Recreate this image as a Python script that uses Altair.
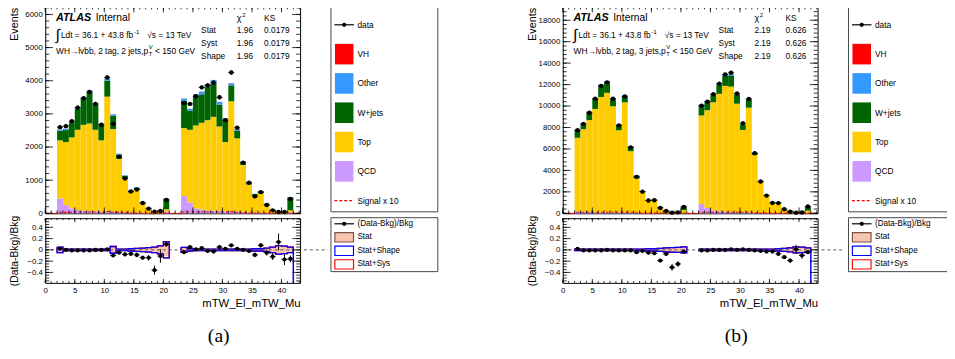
import altair as alt
import pandas as pd

FONT = "Liberation Sans"
SERIF = "Liberation Serif"

# ---------------------------------------------------------------- binning
bin_lo = list(range(2, 21)) + list(range(23, 42))   # 38 unit-width bins, two blocks
x_domain = [0, 43.15]

process_names = ["QCD", "Top", "W+jets", "Other", "VH"]
process_colors = ["#cc99ff", "#ffcc00", "#006400", "#3399ff", "#ff0000"]

# ---------------------------------------------------------------- panel (a)
a_qcd = [450, 250, 150, 100, 80, 70, 60, 50, 50, 50, 40, 30, 20, 20, 15, 10, 5, 5, 60,
         520, 330, 150, 110, 90, 80, 70, 60, 60, 50, 40, 30, 20, 20, 10, 5, 3, 3, 30]
a_top = [1750, 1900, 2140, 2420, 2590, 2640, 2460, 2150, 3470, 2490, 1600, 1020, 610, 710, 275, 140, 45, 55, 60,
         2050, 2190, 2500, 2620, 2720, 2830, 2550, 2090, 3320, 2210, 1420, 840, 510, 580, 240, 85, 37, 37, 60]
a_wjets = [290, 360, 450, 630, 780, 940, 760, 470, 480, 400, 130, 80, 50, 40, 35, 17, 9, 19, 320,
           830, 570, 870, 860, 1000, 1000, 660, 670, 480, 230, 80, 65, 50, 60, 35, 18, 9, 9, 390]
a_other = [40, 40, 40, 45, 50, 50, 45, 40, 60, 45, 25, 15, 10, 10, 5, 3, 1, 1, 10,
           60, 60, 70, 80, 90, 110, 80, 50, 60, 40, 25, 15, 10, 10, 5, 2, 1, 1, 10]
a_vh = [3, 3, 3, 4, 4, 4, 4, 3, 5, 4, 3, 2, 1, 1, 1, 0.5, 0.3, 0.3, 1,
        4, 4, 4, 4, 4, 4, 4, 4, 5, 3, 2, 1, 1, 1, 1, 0.5, 0.3, 0.3, 1]
a_data = [2600, 2630, 2780, 3190, 3470, 3660, 3300, 2670, 4100, 2700, 1710, 1050, 660, 720, 310, 140, 50, 70, 400,
          3330, 3300, 3530, 3800, 3860, 3940, 3500, 2810, 4250, 2580, 1530, 920, 510, 640, 250, 90, 40, 40, 430]
a_data_err = [55, 55, 55, 60, 60, 60, 60, 55, 65, 55, 45, 35, 28, 28, 20, 14, 8, 9, 22,
              60, 60, 60, 65, 65, 65, 60, 55, 65, 52, 40, 32, 24, 26, 17, 10, 7, 7, 22]
a_ratio = [0.02, 0.0, -0.01, -0.01, -0.01, -0.01, 0.0, 0.0, 0.01, -0.10, -0.05, -0.08, -0.07, -0.09, -0.14, -0.14, -0.36, -0.11, 0.10,
           -0.04, 0.05, 0.01, 0.03, -0.02, -0.03, 0.05, 0.02, 0.08, 0.02, 0.0, -0.02, -0.09, 0.08, -0.05, -0.12, 0.14, -0.17, -0.16]
a_ratio_err = [0.02, 0.02, 0.02, 0.02, 0.02, 0.02, 0.02, 0.02, 0.02, 0.02, 0.02, 0.03, 0.03, 0.04, 0.04, 0.05, 0.08, 0.12, 0.05,
               0.02, 0.02, 0.02, 0.02, 0.02, 0.02, 0.02, 0.02, 0.02, 0.02, 0.02, 0.03, 0.04, 0.04, 0.05, 0.06, 0.15, 0.10, 0.06]
a_stat = [0.04, 0.01, 0.01, 0.01, 0.01, 0.01, 0.01, 0.01, 0.01, 0.05, 0.01, 0.01, 0.015, 0.02, 0.025, 0.035, 0.045, 0.06, 0.11,
          0.035, 0.015, 0.01, 0.01, 0.01, 0.01, 0.01, 0.01, 0.01, 0.01, 0.01, 0.01, 0.015, 0.015, 0.025, 0.04, 0.06, 0.055, 0.04]
a_shape = [0.05, 0.012, 0.012, 0.012, 0.012, 0.012, 0.012, 0.012, 0.012, 0.06, 0.015, 0.015, 0.02, 0.025, 0.03, 0.04, 0.05, 0.07, 0.14,
           0.045, 0.02, 0.012, 0.012, 0.012, 0.012, 0.012, 0.012, 0.012, 0.012, 0.012, 0.015, 0.02, 0.02, 0.03, 0.05, 0.075, 0.065, 0.05]

# ---------------------------------------------------------------- panel (b)
b_qcd = [200, 150, 120, 100, 80, 80, 70, 60, 60, 50, 40, 30, 20, 20, 10, 5, 2, 2, 10,
         860, 490, 280, 200, 150, 120, 100, 80, 80, 60, 40, 30, 20, 20, 10, 5, 2, 2, 20]
b_top = [6840, 7690, 8570, 9630, 10760, 11150, 9910, 7680, 10290, 5740, 3200, 1930, 1130, 1180, 490, 195, 68, 88, 290,
         8260, 9120, 10070, 10940, 11730, 11690, 10120, 7690, 9770, 5390, 2860, 1590, 930, 910, 390, 145, 53, 73, 230]
b_wjets = [700, 490, 700, 930, 1040, 990, 650, 470, 540, 410, 265, 80, 88, 88, 94, 37, 19, 29, 310,
           910, 770, 670, 820, 920, 990, 850, 480, 730, 165, 97, 60, 39, 79, 35, 18, 9, 14, 410]
b_other = [90, 80, 90, 100, 110, 110, 100, 80, 100, 60, 30, 20, 12, 12, 6, 3, 1, 1, 8,
           110, 110, 120, 130, 140, 140, 120, 90, 110, 60, 30, 18, 10, 10, 5, 2, 1, 1, 8]
b_vh = [10, 10, 10, 10, 10, 10, 10, 10, 10, 10, 5, 3, 2, 2, 1, 1, 0.5, 0.5, 2,
        10, 10, 10, 10, 10, 10, 10, 10, 10, 5, 3, 2, 1, 1, 0.5, 0.5, 0.3, 0.3, 2]
b_data = [7740, 8330, 9370, 10680, 11880, 12210, 10680, 8200, 10900, 6150, 3400, 2020, 1190, 1220, 490, 210, 60, 90, 600,
          10040, 10410, 11110, 12090, 12950, 13100, 11170, 8390, 10650, 5600, 2960, 1650, 970, 950, 380, 140, 60, 80, 640]
b_data_err = [90, 95, 100, 105, 110, 110, 105, 95, 105, 80, 60, 45, 35, 35, 23, 15, 8, 10, 25,
              100, 105, 105, 110, 115, 115, 105, 92, 105, 75, 55, 40, 31, 31, 20, 12, 8, 9, 25]
b_ratio = [0.02, -0.01, -0.01, -0.01, -0.01, 0.0, -0.01, -0.01, -0.01, -0.01, -0.04, -0.02, -0.05, -0.06, -0.19, -0.07, -0.31, -0.25, -0.03,
           -0.01, -0.01, 0.0, 0.0, 0.0, 0.01, 0.0, 0.01, 0.0, -0.01, -0.02, -0.03, -0.03, -0.07, -0.13, -0.19, 0.01, -0.10, -0.04]
b_ratio_err = [0.01, 0.01, 0.01, 0.01, 0.01, 0.01, 0.01, 0.01, 0.01, 0.01, 0.01, 0.01, 0.01, 0.015, 0.03, 0.025, 0.06, 0.05, 0.03,
               0.01, 0.01, 0.01, 0.01, 0.01, 0.01, 0.01, 0.01, 0.01, 0.01, 0.01, 0.01, 0.015, 0.02, 0.03, 0.04, 0.08, 0.06, 0.03]
b_stat = [0.01, 0.01, 0.01, 0.01, 0.01, 0.01, 0.01, 0.01, 0.01, 0.01, 0.01, 0.01, 0.015, 0.015, 0.02, 0.03, 0.035, 0.04, 0.05,
          0.01, 0.01, 0.01, 0.01, 0.01, 0.01, 0.01, 0.01, 0.01, 0.01, 0.01, 0.01, 0.01, 0.015, 0.02, 0.03, 0.05, 0.045, 0.03]
b_shape = [0.012, 0.012, 0.012, 0.012, 0.012, 0.012, 0.012, 0.012, 0.012, 0.012, 0.012, 0.015, 0.02, 0.02, 0.025, 0.035, 0.04, 0.045, 0.055,
           0.012, 0.012, 0.012, 0.012, 0.012, 0.012, 0.012, 0.012, 0.012, 0.012, 0.012, 0.012, 0.012, 0.02, 0.025, 0.035, 0.055, 0.05, 0.035]

# ---------------------------------------------------------------- axis ticks
x_major = [0, 5, 10, 15, 20, 25, 30, 35, 40]
x_minor = list(range(0, 44))
a_y_major = [0, 1000, 2000, 3000, 4000, 5000, 6000]
a_y_minor = list(range(0, 6201, 200))
b_y_major = [0, 2000, 4000, 6000, 8000, 10000, 12000, 14000, 16000, 18000]
b_y_minor = list(range(0, 19201, 400))
r_major = [-0.4, -0.2, 0, 0.2, 0.4]
r_minor = [round(-0.55 + 0.05 * i, 2) for i in range(23)]

# legends
leg_main_labels = ["data", "VH", "Other", "W+jets", "Top", "QCD", "Signal x 10"]
leg_main_colors = ["", "#ff0000", "#3399ff", "#006400", "#ffcc00", "#cc99ff", ""]
leg_ratio_labels = ["(Data-Bkg)/Bkg", "Stat", "Stat+Shape", "Stat+Sys"]
leg_ratio_fill = ["", "#f7c4ae", "#ffffff", "#ffffff"]
leg_ratio_stroke = ["", "#7a5548", "#0000ff", "#ff0000"]

W, H_TOP, H_RAT = 260, 211, 66
R_DOMAIN = [-0.586, 0.562]
STAT_PINK = "#f7c4ae"
one = pd.DataFrame({"k": [0]})


def txt(s, x, y, size=8.5, align="left", font=FONT, **kw):
    return alt.Chart(one).mark_text(align=align, baseline="middle", fontSize=size, font=font,
                                    color="black", **kw).encode(
        x=alt.value(x), y=alt.value(y), text=alt.value(s))


class Axes:
    def __init__(self, xsc, ysc, xaxis, yaxis):
        self.xsc, self.ysc, self.xaxis, self.yaxis = xsc, ysc, xaxis, yaxis

    def X(self, f):
        return alt.X(f, type="quantitative", scale=self.xsc, axis=self.xaxis)

    def Y(self, f):
        return alt.Y(f, type="quantitative", scale=self.ysc, axis=self.yaxis)


def tick_layers(A, y_major, y_minor, h, xlen, ylen):
    out = []
    for vals, L in ((x_major, xlen), (x_minor, xlen / 2)):
        d = pd.DataFrame({"v": vals})
        out.append(alt.Chart(d).mark_rule(color="black", strokeWidth=0.8).encode(
            x=A.X("v"), y=alt.value(h), y2=alt.value(h - L)))
        out.append(alt.Chart(d).mark_rule(color="black", strokeWidth=0.8).encode(
            x=A.X("v"), y=alt.value(0), y2=alt.value(L)))
    for vals, L in ((y_major, ylen), (y_minor, ylen / 2)):
        d = pd.DataFrame({"v": vals})
        out.append(alt.Chart(d).mark_rule(color="black", strokeWidth=0.8).encode(
            y=A.Y("v"), x=alt.value(0), x2=alt.value(L)))
        out.append(alt.Chart(d).mark_rule(color="black", strokeWidth=0.8).encode(
            y=A.Y("v"), x=alt.value(W - L), x2=alt.value(W)))
    return out


def stack_frame(comps):
    rows = []
    for i, lo in enumerate(bin_lo):
        base = 0.0
        for name, vals in zip(process_names, comps):
            v = vals[i]
            rows.append(dict(lo=lo, hi=lo + 1, y0=base, y1=base + v, proc=name))
            base += v
    return pd.DataFrame(rows)


def signal_frame(vh):
    xs, ys = [x_domain[0]], [0.0]
    prev_hi = None
    for i, lo in enumerate(bin_lo):
        if prev_hi is not None and lo != prev_hi:
            xs.append(prev_hi)
            ys.append(0.0)
        xs.append(lo)
        ys.append(vh[i] * 10)
        prev_hi = lo + 1
    xs += [prev_hi, x_domain[1]]
    ys += [0.0, 0.0]
    return pd.DataFrame({"x": xs, "y": ys, "k": list(range(len(xs)))})


def outline_frame(half):
    rows = []
    for g, (start, stop) in enumerate([(0, 19), (19, 38)]):
        k = 0
        for i in range(start, stop):
            rows.append(dict(g=g, k=k, x=bin_lo[i], y=half[i])); k += 1
            rows.append(dict(g=g, k=k, x=bin_lo[i] + 1, y=half[i])); k += 1
        for i in reversed(range(start, stop)):
            rows.append(dict(g=g, k=k, x=bin_lo[i] + 1, y=-half[i])); k += 1
            rows.append(dict(g=g, k=k, x=bin_lo[i], y=-half[i])); k += 1
        rows.append(dict(g=g, k=k, x=bin_lo[start], y=half[start]))
    return pd.DataFrame(rows)


def point_frame(vals, errs):
    return pd.DataFrame({
        "lo": bin_lo, "hi": [b + 1 for b in bin_lo], "c": [b + 0.5 for b in bin_lo],
        "y": vals, "ylo": [v - e for v, e in zip(vals, errs)], "yhi": [v + e for v, e in zip(vals, errs)],
    })


def points_layers(df, A, size=18):
    return [
        alt.Chart(df).mark_rule(color="black", strokeWidth=1).encode(x=A.X("lo"), x2="hi:Q", y=A.Y("y")),
        alt.Chart(df).mark_rule(color="black", strokeWidth=1).encode(x=A.X("c"), y=A.Y("ylo"), y2="yhi:Q"),
        alt.Chart(df).mark_circle(color="black", opacity=1, size=size).encode(x=A.X("c"), y=A.Y("y")),
    ]


def make_panel(comps, vh, data, data_err, ratio, ratio_err, stat, shape,
               y_top, y_major, y_minor, jets, chi2, ks, ks_x, caption):
    xsc = alt.Scale(domain=x_domain, nice=False, zero=False)
    ysc = alt.Scale(domain=[0, y_top], nice=False, zero=False)
    rsc = alt.Scale(domain=R_DOMAIN, nice=False, zero=False)

    y_axis = alt.Axis(values=y_major, format="d", ticks=False, tickSize=0, domain=False,
                      grid=False, labelFontSize=8, labelPadding=3, labelFlush=False,
                      labelOverlap=False, title="Events", titleFontSize=11,
                      titleX=-31, titleY=1, titleAngle=270, titleAlign="right",
                      titleBaseline="middle")
    x_axis_r = alt.Axis(values=x_major, format="d", ticks=False, tickSize=0, domain=False,
                        grid=False, labelFontSize=8, labelPadding=4, labelFlush=False,
                        labelOverlap=False, title="mTW_El_mTW_Mu", titleFontSize=11.5,
                        titleX=W, titleY=21, titleAlign="right", titleBaseline="middle")
    y_axis_r = alt.Axis(values=r_major, format=".1~f", ticks=False, tickSize=0, domain=False,
                        grid=False, labelFontSize=8, labelPadding=3, labelFlush=False,
                        labelOverlap=False, title="(Data-Bkg)/Bkg", titleFontSize=10.5,
                        titleX=-31, titleY=H_RAT / 2, titleAngle=270, titleAlign="center",
                        titleBaseline="middle")
    T = Axes(xsc, ysc, None, y_axis)
    R = Axes(xsc, rsc, x_axis_r, y_axis_r)

    # ---------------- main histogram
    bars = alt.Chart(stack_frame(comps + [vh])).mark_rect().encode(
        x=T.X("lo"), x2="hi:Q", y=T.Y("y0"), y2="y1:Q",
        color=alt.Color("proc:N", scale=alt.Scale(domain=process_names, range=process_colors), legend=None),
    )
    signal = alt.Chart(signal_frame(vh)).mark_line(
        color="#ff0000", strokeDash=[3, 2], strokeWidth=1.2, interpolate="step-after").encode(
        x=T.X("x"), y=T.Y("y"), order="k:Q")
    texts = [
        txt("ATLAS", 11, 12, size=11, fontWeight="bold", fontStyle="italic"),
        txt("Internal", 51.5, 12, size=10.5),
        txt("\u222b", 10.5, 29, size=16),
        txt("Ldt = 36.1 + 43.8 fb", 16, 29),
        txt("-1", 90.5, 26, size=6),
        txt("\u221as = 13 TeV", 104, 29),
        txt("WH\u2192lvbb, 2 tag, " + jets + " jets,p", 11, 45),
        txt("V", 105.5, 41.5, size=6),
        txt("T", 105.5, 48.5, size=6),
        txt("< 150 GeV", 112, 45),
        txt("\u03c7", 195.5, 12, size=9),
        txt("2", 201, 9, size=6),
        txt("KS", ks_x, 12, size=8.5),
        txt("Stat", 159, 24), txt("Syst", 159, 37.3), txt("Shape", 159, 50.3),
        txt(chi2, 195.5, 24), txt(chi2, 195.5, 37.3), txt(chi2, 195.5, 50.3),
        txt(ks, ks_x, 24), txt(ks, ks_x, 37.3), txt(ks, ks_x, 50.3),
    ]
    top = alt.layer(
        bars, signal, *points_layers(point_frame(data, data_err), T, size=20),
        *tick_layers(T, y_major, y_minor, H_TOP, 6, 8),
        *texts,
    ).properties(width=W, height=H_TOP)

    # ---------------- ratio
    sdf = pd.DataFrame({"lo": bin_lo, "hi": [b + 1 for b in bin_lo],
                        "s0": [-s for s in stat], "s1": stat})
    band = alt.Chart(sdf).mark_rect(color=STAT_PINK).encode(
        x=R.X("lo"), x2="hi:Q", y=R.Y("s0"), y2="s1:Q")
    outline_sys = alt.Chart(outline_frame(shape)).mark_line(color="#ff0000", strokeWidth=1.3).encode(
        x=R.X("x"), y=R.Y("y"), detail="g:N", order="k:Q")
    outline = alt.Chart(outline_frame(shape)).mark_line(color="#0000ff", strokeWidth=1.3).encode(
        x=R.X("x"), y=R.Y("y"), detail="g:N", order="k:Q")
    drop = alt.Chart(pd.DataFrame({"x": [42], "y0": [0], "y1": [R_DOMAIN[0]]})).mark_rule(
        color="#0000ff", strokeWidth=1.5).encode(x=R.X("x"), y=R.Y("y0"), y2="y1:Q")
    zero = alt.Chart(pd.DataFrame({"x0": [0], "x1": [47.85], "y": [0]})).mark_rule(
        color="#555555", strokeDash=[3, 3], strokeWidth=1, clip=False).encode(
        x=R.X("x0"), x2="x1:Q", y=R.Y("y"))
    cap = alt.Chart(one).mark_text(font=SERIF, fontSize=20, align="center", baseline="middle",
                                   color="black").encode(
        x=alt.value(177), y=alt.value(120), text=alt.value(caption))
    rat = alt.layer(
        band, outline_sys, outline, drop, zero,
        *points_layers(point_frame(ratio, ratio_err), R, size=18),
        *tick_layers(R, r_major, r_minor, H_RAT, 4, 8),
        cap,
    ).properties(width=W, height=H_RAT)
    return alt.vconcat(top, rat, spacing=5, bounds="flush")


def legend_main():
    df = pd.DataFrame({"row": list(range(len(leg_main_labels))), "label": leg_main_labels,
                       "color": leg_main_colors})
    ysc = alt.Scale(domain=[-0.625, 6.365], reverse=True, nice=False, zero=False)
    Y = alt.Y("row:Q", scale=ysc, axis=None)
    sw = df[df.color != ""]
    layers = [
        alt.Chart(df).mark_text(align="left", baseline="middle", fontSize=8.5, font=FONT,
                                color="black").encode(x=alt.value(27.5), y=Y, text="label:N"),
        alt.Chart(sw).mark_point(shape="M-0.9,-1H0.9V1H-0.9Z", filled=True, size=441, opacity=1,
                                 strokeWidth=0).encode(
            x=alt.value(14), y=Y, color=alt.Color("color:N", scale=None)),
        alt.Chart(df[df.row == 0]).mark_rule(color="black", strokeWidth=1.2).encode(
            x=alt.value(4), x2=alt.value(24), y=Y),
        alt.Chart(df[df.row == 0]).mark_circle(color="black", size=18, opacity=1).encode(
            x=alt.value(14), y=Y),
        alt.Chart(df[df.row == 6]).mark_rule(color="#ff0000", strokeWidth=1.2, strokeDash=[3, 2]).encode(
            x=alt.value(4), x2=alt.value(24), y=Y),
    ]
    return alt.layer(*layers).properties(width=109, height=209,
                                         view=alt.ViewBackground(stroke="#444444", strokeWidth=1))


def legend_ratio():
    df = pd.DataFrame({"row": list(range(len(leg_ratio_labels))), "label": leg_ratio_labels,
                       "fill": leg_ratio_fill, "stroke": leg_ratio_stroke})
    ysc = alt.Scale(domain=[-0.486, 3.5], reverse=True, nice=False, zero=False)
    Y = alt.Y("row:Q", scale=ysc, axis=None)
    sw = df[df.fill != ""]
    layers = [
        alt.Chart(df).mark_text(align="left", baseline="middle", fontSize=8.3, font=FONT,
                                color="black").encode(x=alt.value(27.5), y=Y, text="label:N"),
        alt.Chart(sw).mark_point(shape="M-1,-0.5H1V0.5H-1Z", filled=True, size=361, opacity=1,
                                 strokeWidth=1.2).encode(
            x=alt.value(14), y=Y, fill=alt.Fill("fill:N", scale=None),
            stroke=alt.Stroke("stroke:N", scale=None)),
        alt.Chart(df[df.row == 0]).mark_rule(color="black", strokeWidth=1.2).encode(
            x=alt.value(4), x2=alt.value(24), y=Y),
        alt.Chart(df[df.row == 0]).mark_circle(color="black", size=18, opacity=1).encode(
            x=alt.value(14), y=Y),
    ]
    return alt.layer(*layers).properties(width=109, height=55,
                                         view=alt.ViewBackground(stroke="#444444", strokeWidth=1))


panel_a = make_panel([a_qcd, a_top, a_wjets, a_other], a_vh, a_data, a_data_err, a_ratio, a_ratio_err,
                     a_stat, a_shape, 6240, a_y_major, a_y_minor, "2", "1.96", "0.0179", 223.3, "(a)")
panel_b = make_panel([b_qcd, b_top, b_wjets, b_other], b_vh, b_data, b_data_err, b_ratio, b_ratio_err,
                     b_stat, b_shape, 19280, b_y_major, b_y_minor, "3", "2.19", "0.626", 227.3, "(b)")

leg_a = alt.vconcat(legend_main(), legend_ratio(), spacing=6, bounds="flush")
leg_b = alt.vconcat(legend_main(), legend_ratio(), spacing=6, bounds="flush")

left = alt.hconcat(panel_a, leg_a, spacing=0)
right = alt.hconcat(panel_b, leg_b, spacing=0)

chart = alt.hconcat(left, right, spacing=89).properties(
    padding={"left": 0, "top": -6, "right": -9, "bottom": 0}
).configure(font=FONT).configure_view(stroke="black", strokeWidth=1).configure_axis(
    labelFont=FONT, titleFont=FONT, labelColor="black", titleColor="black", titleFontWeight="normal"
)

chart.save("out.html", embed_options={"renderer": "svg", "actions": False})
